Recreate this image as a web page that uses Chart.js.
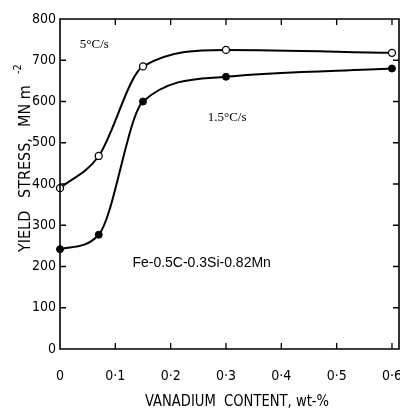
<!DOCTYPE html>
<html>
<head>
<meta charset="utf-8">
<script src="https://cdn.jsdelivr.net/npm/chart.js@4.4.0/dist/chart.umd.min.js"></script>
<style>
html,body{margin:0;padding:0;background:#fff;}
#wrap{width:400px;height:412px;position:relative;}
</style>
</head>
<body>
<div id="wrap"><canvas id="c" width="400" height="412"></canvas></div>
<script>
// Data
const vanadium5 = [0, 0.07, 0.15, 0.30, 0.60];
const stress5 = [390, 468, 685, 725, 718];
const vanadium15 = [0, 0.07, 0.15, 0.30, 0.60];
const stress15 = [242, 277, 600, 660, 680];
const xTicks = [0, 0.1, 0.2, 0.3, 0.4, 0.5, 0.6];
const yTicks = [0, 100, 200, 300, 400, 500, 600, 700, 800];
const seriesLabels = ['5°C/s', '1.5°C/s'];
const noteText = 'Fe-0.5C-0.3Si-0.82Mn';
const xTitle = 'VANADIUM  CONTENT, wt-%';
const yTitleParts = ['YIELD', 'STRESS,', 'MN m', '-2'];

const narrow = '"Liberation Sans Narrow", "DejaVu Sans Condensed", sans-serif';

function toPts(xs, ys){ return xs.map((x,i)=>({x:x, y:ys[i]})); }

const framePlugin = {
  id: 'frame',
  afterDatasetsDraw(chart){
    const {ctx, chartArea:a, scales} = chart;
    ctx.save();
    ctx.strokeStyle = '#000';
    ctx.lineWidth = 1.6;
    ctx.beginPath();
    ctx.rect(a.left, a.top, a.right - a.left, a.bottom - a.top);
    ctx.stroke();
    ctx.lineWidth = 1.3;
    const L = 6;
    ctx.beginPath();
    xTicks.forEach(v=>{
      const px = scales.x.getPixelForValue(v);
      if (v > 0) {
        ctx.moveTo(px, a.bottom); ctx.lineTo(px, a.bottom - L);
        ctx.moveTo(px, a.top); ctx.lineTo(px, a.top + L);
      }
    });
    yTicks.forEach(v=>{
      const py = scales.y.getPixelForValue(v);
      if (v > 0 && v < 800) {
        ctx.moveTo(a.left, py); ctx.lineTo(a.left + L, py);
        ctx.moveTo(a.right, py); ctx.lineTo(a.right - L, py);
      }
    });
    ctx.stroke();
    // annotations
    ctx.fillStyle = '#000';
    ctx.textAlign = 'center';
    ctx.textBaseline = 'middle';
    ctx.font = '13px "Liberation Serif", "DejaVu Serif", serif';
    ctx.fillText(seriesLabels[0], scales.x.getPixelForValue(0.062), scales.y.getPixelForValue(737));
    ctx.fillText(seriesLabels[1], scales.x.getPixelForValue(0.302), scales.y.getPixelForValue(562));
    ctx.font = '14px "Liberation Sans", Arial, sans-serif';
    ctx.fillText(noteText, scales.x.getPixelForValue(0.256), scales.y.getPixelForValue(208));

    // x axis title (narrow, tall lettering)
    ctx.font = '16px ' + narrow;
    const w = ctx.measureText(xTitle).width;
    ctx.save();
    ctx.translate(237, 402);
    ctx.scale(184 / w, 1);
    ctx.fillText(xTitle, 0, 0);
    ctx.restore();

    // y axis title
    ctx.save();
    ctx.translate(26, 252);
    ctx.rotate(-Math.PI / 2);
    ctx.textAlign = 'left';
    ctx.font = '16px ' + narrow;
    ctx.fillText(yTitleParts[0], 0, 0);
    ctx.fillText(yTitleParts[1], 54, 0);
    ctx.fillText(yTitleParts[2], 125, 0);
    ctx.font = '11px ' + narrow;
    ctx.fillText(yTitleParts[3], 178, -8);
    ctx.restore();
    ctx.restore();
  }
};

new Chart(document.getElementById('c'), {
  type: 'scatter',
  data: {
    datasets: [
      {
        label: seriesLabels[0],
        data: toPts(vanadium5, stress5),
        showLine: true,
        borderColor: '#000',
        borderWidth: 2,
        backgroundColor: '#fff',
        pointBackgroundColor: '#fff',
        pointBorderColor: '#000',
        pointBorderWidth: 1.3,
        pointRadius: 3.5,
        clip: false,
        cubicInterpolationMode: 'monotone'
      },
      {
        label: seriesLabels[1],
        data: toPts(vanadium15, stress15),
        showLine: true,
        borderColor: '#000',
        borderWidth: 2,
        backgroundColor: '#000',
        pointBackgroundColor: '#000',
        pointBorderColor: '#000',
        pointBorderWidth: 1,
        pointRadius: 3.5,
        clip: false,
        cubicInterpolationMode: 'monotone'
      }
    ]
  },
  options: {
    responsive: false,
    animation: false,
    devicePixelRatio: 1,
    layout: { autoPadding: false, padding: { top: 19, right: 1, left: 0, bottom: 0 } },
    plugins: { legend: { display: false }, tooltip: { enabled: false } },
    scales: {
      x: {
        type: 'linear',
        min: 0,
        max: 0.6127,
        afterBuildTicks(s){ s.ticks = xTicks.map(v=>({value:v})); },
        afterFit(s){ s.height = 63; s.paddingLeft = 0; s.paddingRight = 0; },
        grid: { display: false, drawTicks: false },
        border: { display: false },
        ticks: {
          color: '#000',
          padding: 19,
          maxRotation: 0,
          autoSkip: false,
          font: { family: narrow, size: 14 },
          callback: v => v === 0 ? '0' : v.toFixed(1).replace('.', '·')
        },
        title: { display: false }
      },
      y: {
        type: 'linear',
        min: 0,
        max: 800,
        afterBuildTicks(s){ s.ticks = yTicks.map(v=>({value:v})); },
        afterFit(s){ s.width = 60; s.paddingTop = 0; s.paddingBottom = 0; },
        grid: { display: false, drawTicks: false },
        border: { display: false },
        ticks: {
          color: '#000',
          padding: 4,
          font: { family: narrow, size: 14 }
        },
        title: { display: false }
      }
    }
  },
  plugins: [framePlugin]
});
</script>
</body>
</html>
